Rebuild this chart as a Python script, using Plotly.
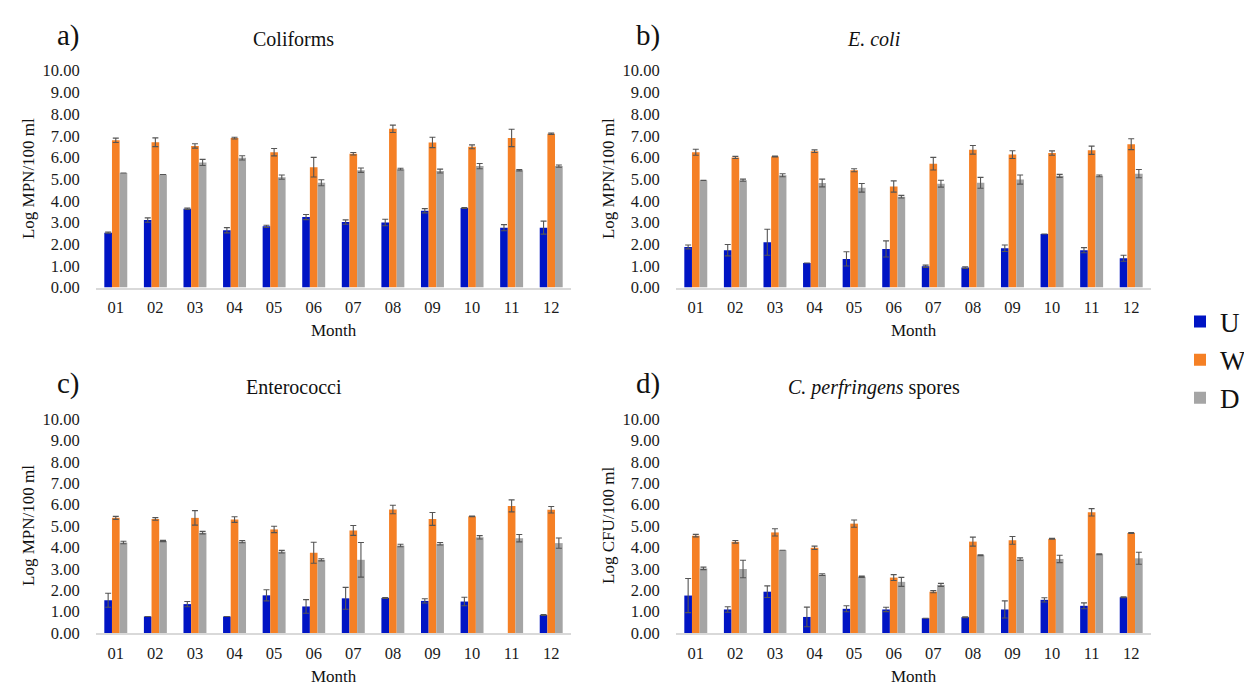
import plotly.graph_objects as go

W_PX, H_PX = 1252, 686

months = ["01", "02", "03", "04", "05", "06", "07", "08", "09", "10", "11", "12"]
series_names = ["U", "W", "D"]
colors = {"U": "#0014C4", "W": "#F58025", "D": "#A5A5A5"}

# a) Coliforms
coli_U = [2.53, 3.11, 3.63, 2.64, 2.82, 3.25, 3.02, 3.00, 3.54, 3.67, 2.76, 2.76]
coli_U_err = [0.03, 0.10, 0.03, 0.12, 0.05, 0.12, 0.10, 0.15, 0.10, 0.02, 0.14, 0.30]
coli_W = [6.79, 6.70, 6.53, 6.89, 6.24, 5.55, 6.17, 7.32, 6.69, 6.49, 6.90, 7.09]
coli_W_err = [0.10, 0.20, 0.10, 0.04, 0.17, 0.45, 0.06, 0.17, 0.24, 0.09, 0.40, 0.03]
coli_D = [5.28, 5.21, 5.77, 5.98, 5.09, 4.83, 5.41, 5.46, 5.37, 5.60, 5.41, 5.60]
coli_D_err = [None, None, 0.14, 0.10, 0.10, 0.14, 0.10, 0.04, 0.09, 0.12, 0.03, 0.05]

# b) E. coli
ecoli_U = [1.87, 1.72, 2.09, 1.13, 1.32, 1.78, 0.98, 0.92, 1.81, 2.47, 1.72, 1.35]
ecoli_U_err = [0.09, 0.26, 0.60, None, 0.33, 0.37, 0.05, 0.04, 0.15, None, 0.12, 0.14]
ecoli_W = [6.24, 6.00, 6.04, 6.29, 5.41, 4.66, 5.71, 6.35, 6.13, 6.20, 6.33, 6.61]
ecoli_W_err = [0.14, 0.05, 0.02, 0.06, 0.07, 0.26, 0.29, 0.20, 0.18, 0.10, 0.19, 0.25]
ecoli_D = [4.94, 4.95, 5.18, 4.82, 4.60, 4.19, 4.79, 4.83, 4.98, 5.15, 5.15, 5.25]
ecoli_D_err = [None, 0.05, 0.07, 0.18, 0.20, 0.06, 0.16, 0.25, 0.21, 0.07, 0.04, 0.19]

# c) Enterococci
ent_U = [1.53, 0.77, 1.35, 0.77, 1.76, 1.24, 1.62, 1.64, 1.50, 1.47, None, 0.84]
ent_U_err = [0.33, None, 0.12, None, 0.26, 0.32, 0.51, 0.02, 0.10, 0.20, None, 0.02]
ent_W = [5.38, 5.33, 5.38, 5.30, 4.84, 3.75, 4.79, 5.77, 5.33, 5.45, 5.94, 5.76]
ent_W_err = [0.07, 0.06, 0.34, 0.13, 0.15, 0.49, 0.23, 0.20, 0.30, 0.02, 0.28, 0.15]
ent_D = [4.23, 4.30, 4.69, 4.27, 3.80, 3.42, 3.42, 4.09, 4.17, 4.47, 4.43, 4.20]
ent_D_err = [0.06, 0.03, 0.06, 0.05, 0.06, 0.05, 0.81, 0.06, 0.06, 0.08, 0.17, 0.24]

# d) C. perfringens spores
cp_U = [1.75, 1.10, 1.93, 0.75, 1.13, 1.10, 0.69, 0.74, 1.10, 1.55, 1.27, 1.67]
cp_U_err = [0.80, 0.13, 0.27, 0.46, 0.14, 0.10, None, 0.02, 0.40, 0.10, 0.14, 0.02]
cp_W = [4.55, 4.26, 4.70, 3.98, 5.11, 2.59, 1.93, 4.27, 4.33, 4.40, 5.64, 4.67]
cp_W_err = [0.06, 0.06, 0.17, 0.08, 0.17, 0.14, 0.05, 0.21, 0.18, 0.02, 0.17, 0.02]
cp_D = [3.02, 2.99, 3.87, 2.73, 2.63, 2.39, 2.25, 3.63, 3.45, 3.46, 3.68, 3.49]
cp_D_err = [0.06, 0.41, None, 0.04, 0.03, 0.21, 0.07, 0.02, 0.06, 0.17, 0.02, 0.28]

panel_letters = ["a)", "b)", "c)", "d)"]
panel_titles = ["Coliforms", "<i>E. coli</i>", "Enterococci", "<i>C. perfringens</i> spores"]
y_titles = ["Log MPN/100 ml", "Log MPN/100 ml", "Log MPN/100 ml", "Log CFU/100 ml"]
x_title = "Month"
y_tick_vals = [0, 1, 2, 3, 4, 5, 6, 7, 8, 9, 10]

panels = [
    (coli_U, coli_U_err, coli_W, coli_W_err, coli_D, coli_D_err),
    (ecoli_U, ecoli_U_err, ecoli_W, ecoli_W_err, ecoli_D, ecoli_D_err),
    (ent_U, ent_U_err, ent_W, ent_W_err, ent_D, ent_D_err),
    (cp_U, cp_U_err, cp_W, cp_W_err, cp_D, cp_D_err),
]

FONT = "Liberation Serif, Times New Roman, serif"

def px_x(x):
    return x / W_PX

def px_y(y):
    return 1 - y / H_PX

# pixel geometry of the plot areas (left, right, top, bottom)
geom = [
    (88, 563, 62.7, 279.5),
    (668, 1143, 62.7, 279.5),
    (88, 563, 411, 625),
    (668, 1143, 411, 625),
]
month_title_y = [322, 322, 668, 668]

fig = go.Figure()

for i, (U, Ue, Wv, We, D, De) in enumerate(panels):
    ax = "" if i == 0 else str(i + 1)
    for name, vals, errs in (("U", U, Ue), ("W", Wv, We), ("D", D, De)):
        fig.add_trace(go.Bar(
            x=months, y=vals, name=name,
            marker=dict(color=colors[name], line=dict(width=0)),
            error_y=dict(type="data", array=errs, symmetric=True, visible=True,
                         color="#555555", thickness=1.1, width=3),
            xaxis="x" + ax, yaxis="y" + ax,
            showlegend=(i == 0), legendgroup=name,
        ))

layout = dict(
    width=W_PX, height=H_PX,
    margin=dict(l=0, r=0, t=0, b=0, autoexpand=False),
    paper_bgcolor="white", plot_bgcolor="white",
    barmode="group", bargap=0.42, bargroupgap=0,
    font=dict(family=FONT, color="#1a1a1a", size=16),
    showlegend=True,
    legend=dict(x=1172 / W_PX, y=px_y(352), xanchor="left", yanchor="middle",
                font=dict(family=FONT, size=27, color="#111111"),
                bgcolor="rgba(0,0,0,0)", tracegroupgap=0, itemwidth=30),
    annotations=[],
)

for i, (l, r, t, b) in enumerate(geom):
    ax = "" if i == 0 else str(i + 1)
    layout["xaxis" + ax] = dict(
        domain=[px_x(l), px_x(r)], anchor="y" + ax, type="category",
        showline=True, linecolor="#D9D9D9", linewidth=1.5,
        showgrid=False, zeroline=False,
        ticks="outside", ticklen=4, tickcolor="rgba(0,0,0,0)",
        tickfont=dict(family=FONT, size=16.5, color="#1a1a1a"),
    )
    layout["yaxis" + ax] = dict(
        domain=[px_y(b), px_y(t)], anchor="x" + ax,
        range=[0, 10], tickvals=y_tick_vals, tickformat=".2f",
        showline=False, showgrid=False, zeroline=False,
        ticks="outside", ticklen=12, tickcolor="rgba(0,0,0,0)",
        tickfont=dict(family=FONT, size=16.5, color="#1a1a1a"),
    )
    cx = (l + r) / 2
    # panel letter
    layout["annotations"].append(dict(
        text=panel_letters[i], x=px_x(l - 28), y=px_y(t - 35),
        xref="paper", yref="paper", showarrow=False, xanchor="center", yanchor="middle",
        font=dict(family=FONT, size=29, color="#111111")))
    # panel title
    layout["annotations"].append(dict(
        text=panel_titles[i], x=px_x(cx - 40), y=px_y(t - 32),
        xref="paper", yref="paper", showarrow=False, xanchor="center", yanchor="middle",
        font=dict(family=FONT, size=20, color="#111111")))
    # y axis title
    layout["annotations"].append(dict(
        text=y_titles[i], x=px_x(l - 68), y=px_y((t + b) / 2), textangle=-90,
        xref="paper", yref="paper", showarrow=False, xanchor="center", yanchor="middle",
        font=dict(family=FONT, size=17, color="#111111")))
    # x axis title
    layout["annotations"].append(dict(
        text=x_title, x=px_x(cx), y=px_y(month_title_y[i]),
        xref="paper", yref="paper", showarrow=False, xanchor="center", yanchor="middle",
        font=dict(family=FONT, size=17, color="#111111")))

fig.update_layout(**layout)
fig.write_html("out.html")
